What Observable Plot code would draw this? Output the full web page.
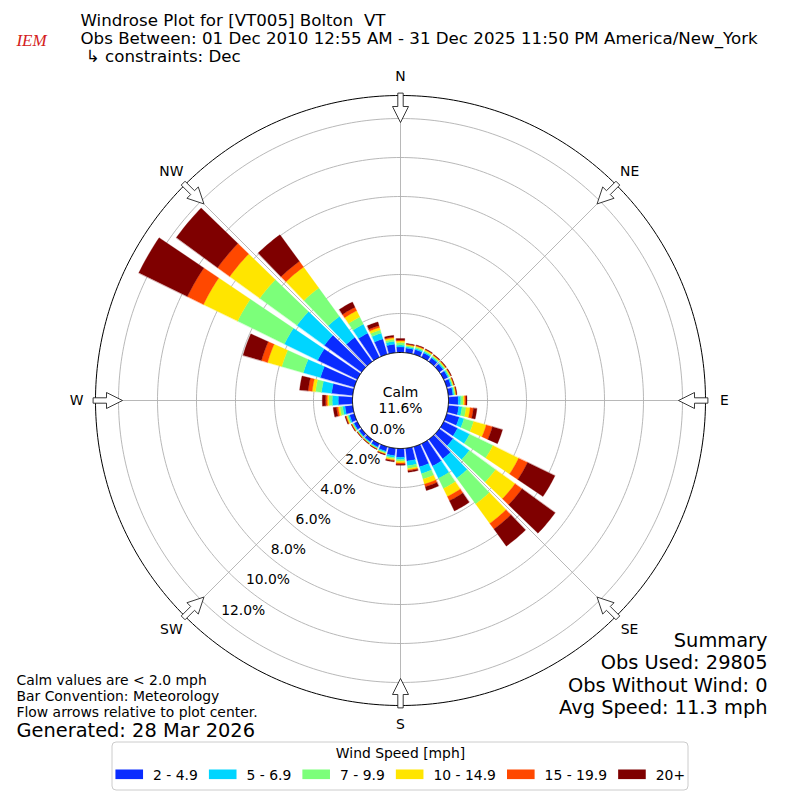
<!DOCTYPE html>
<html>
<head>
<meta charset="utf-8">
<script src="https://cdn.jsdelivr.net/npm/d3@7"></script>
<script src="https://cdn.jsdelivr.net/npm/@observablehq/plot@0.6"></script>
<style>
  html, body { margin: 0; padding: 0; background: #fff; }
</style>
</head>
<body>
<div id="chart"></div>
<script>
// ---------------- DATA ----------------
const directions = [0,10,20,30,40,50,60,70,80,90,100,110,120,130,140,150,160,170,
                    180,190,200,210,220,230,240,250,260,270,280,290,300,310,320,330,340,350];
const speedBins = ["2 - 4.9", "5 - 6.9", "7 - 9.9", "10 - 14.9", "15 - 19.9", "20+"];
const binColors = ["#0a2cff", "#00d5ff", "#7cff7a", "#ffe500", "#ff4800", "#7f0000"];

// percent of observations per direction, one array per speed bin
const bin2_5   = [0.28,0.24,0.25,0.25,0.24,0.24,0.24,0.23,0.24,0.50,0.54,0.67,0.79,0.87,1.23,1.28,1.08,0.66,
                  0.45,0.38,0.24,0.19,0.17,0.17,0.19,0.25,0.40,0.73,1.09,1.81,2.26,2.36,1.54,1.38,0.82,0.44];
const bin5_7   = [0.10,0.07,0.07,0.07,0.06,0.06,0.06,0.06,0.06,0.13,0.17,0.26,0.69,1.03,1.23,0.70,0.36,0.24,
                  0.12,0.10,0.06,0.05,0.04,0.04,0.05,0.07,0.12,0.31,0.52,0.91,1.90,1.74,1.33,0.51,0.31,0.15];
const bin7_10  = [0.13,0.06,0.07,0.06,0.06,0.06,0.06,0.05,0.06,0.12,0.21,0.51,1.33,1.67,1.64,0.58,0.29,0.14,
                  0.09,0.07,0.05,0.04,0.04,0.04,0.04,0.06,0.14,0.17,0.31,1.15,2.67,2.36,1.80,0.41,0.17,0.10];
const bin10_15 = [0.08,0.05,0.05,0.05,0.04,0.04,0.04,0.04,0.04,0.08,0.21,0.67,1.47,1.23,1.23,0.46,0.27,0.08,
                  0.08,0.06,0.04,0.02,0.02,0.02,0.03,0.05,0.09,0.08,0.17,0.76,1.95,1.90,1.33,0.36,0.13,0.08];
const bin15_20 = [0.05,0.03,0.03,0.02,0.02,0.02,0.02,0.02,0.02,0.07,0.17,0.33,0.51,0.44,0.36,0.24,0.14,0.05,
                  0.07,0.04,0.02,0.01,0.01,0.01,0.02,0.03,0.09,0.09,0.21,0.33,0.92,0.77,0.36,0.20,0.10,0.05];
const bin20p   = [0.08,0.03,0.03,0.03,0.03,0.03,0.03,0.02,0.03,0.05,0.18,0.54,1.56,2.10,1.08,0.58,0.20,0.07,
                  0.05,0.05,0.03,0.02,0.02,0.02,0.02,0.04,0.17,0.17,0.44,0.98,2.77,2.62,1.69,0.30,0.20,0.08];

const calmPct = 11.6;
const ringTicks = [0, 2, 4, 6, 8, 10, 12];
const compassLabels = ["N", "NE", "E", "SE", "S", "SW", "W", "NW"];
const compassBearings = [0, 45, 90, 135, 180, 225, 270, 315];

const titleLines = [
  "Windrose Plot for [VT005] Bolton\u00a0 VT",
  "Obs Between: 01 Dec 2010 12:55 AM - 31 Dec 2025 11:50 PM America/New_York",
  "\u00a0\u21b3 constraints: Dec"
];
const noteLines = [
  "Calm values are < 2.0 mph",
  "Bar Convention: Meteorology",
  "Flow arrows relative to plot center."
];
const generatedLine = "Generated: 28 Mar 2026";
const summaryLines = ["Summary", "Obs Used: 29805", "Obs Without Wind: 0", "Avg Speed: 11.3 mph"];
const legendTitle = "Wind Speed [mph]";

// ---------------- GEOMETRY ----------------
const PX = 19.5;              // pixels per percent on the radial axis
const BOTTOM = 48 / PX;       // calm circle radius (radial offset)
const OUTER = 305 / PX;       // outer frame radius
const HALF = 400 / PX;
const OPEN = 8;               // bar angular width, degrees
const FONT = "DejaVu Sans";
const rad = d => d * Math.PI / 180;
const pol = (r, deg) => [r * Math.sin(rad(deg)), r * Math.cos(rad(deg))];
const X = px => (px - 400) / PX;
const Y = py => (400 - py) / PX;

const binArrays = [bin2_5, bin5_7, bin7_10, bin10_15, bin15_20, bin20p];
const wedges = binArrays.map(() => []);
directions.forEach((d, i) => {
  let c0 = 0;
  binArrays.forEach((arr, k) => {
    const v = arr[i];
    if (!(v > 0)) return;
    const c1 = c0 + v;
    const id = d + "-" + k;
    const n = 10;
    for (let j = 0; j <= n; j++) {
      const [x, y] = pol(BOTTOM + c0, d - OPEN / 2 + OPEN * j / n);
      wedges[k].push({id, x, y});
    }
    for (let j = n; j >= 0; j--) {
      const [x, y] = pol(BOTTOM + c1, d - OPEN / 2 + OPEN * j / n);
      wedges[k].push({id, x, y});
    }
    c0 = c1;
  });
});

function circle(r, id) {
  const pts = [];
  for (let a = 0; a < 360; a += 1) {
    const [x, y] = pol(r, a);
    pts.push({id, x, y});
  }
  return pts;
}
const ringPts = ringTicks.filter(v => v > 0).flatMap(v => circle(BOTTOM + v, "r" + v));
const spokes = compassBearings.map(b => {
  const [x1, y1] = pol(BOTTOM, b);
  const [x2, y2] = pol(OUTER, b);
  return {x1, y1, x2, y2};
});

// compass arrows: shape in pixels (radius, half-width)
const arrowShape = [[307, -2.7], [294, -2.7], [294, -8], [278, 0], [294, 8], [294, 2.7], [307, 2.7]];
const arrowPts = compassBearings.flatMap(b => arrowShape.map(([r, w]) => ({
  id: "a" + b,
  x: (r * Math.sin(rad(b)) + w * Math.cos(rad(b))) / PX,
  y: (r * Math.cos(rad(b)) - w * Math.sin(rad(b))) / PX
})));
const compassText = compassLabels.map((t, i) => {
  const [x, y] = pol(324 / PX, compassBearings[i]);
  return {t, x, y};
});
const rLabelBearing = 219.5;
const rLabels = ringTicks.map(v => {
  const [x, y] = pol(BOTTOM + v, rLabelBearing);
  return {t: v.toFixed(1) + "%", x, y: y + 8 / PX};
});

function lines(texts, xpx, baselines, size, anchor) {
  return Plot.text(texts.map((t, i) => ({t, x: X(xpx), y: Y(baselines[i] - 0.32 * size)})), {
    x: "x", y: "y", text: "t", fontSize: size, textAnchor: anchor,
    lineAnchor: "middle", fill: "black", fontFamily: FONT
  });
}

// legend layout
const ctx = document.createElement("canvas").getContext("2d");
const LFS = 13.9;
ctx.font = LFS + "px '" + FONT + "'";
const handleW = 27.6, handleH = 9.6, pad = 9.5, gap = 11.6;
const widths = speedBins.map(s => ctx.measureText(s).width);
const totalW = widths.reduce((a, b) => a + b, 0) + speedBins.length * (handleW + pad) + (speedBins.length - 1) * gap;
let cursor = 400 - totalW / 2;
const legendItems = speedBins.map((s, i) => {
  const item = {label: s, color: binColors[i], sx: cursor, tx: cursor + handleW + pad};
  cursor += handleW + pad + widths[i] + gap;
  return item;
});

const chart = Plot.plot({
  width: 800,
  height: 800,
  margin: 0,
  x: {domain: [-HALF, HALF], axis: null},
  y: {domain: [-HALF, HALF], axis: null},
  style: {fontFamily: FONT, background: "white", color: "black"},
  marks: [
    Plot.line(ringPts, {x: "x", y: "y", z: "id", stroke: "#b0b0b0", strokeWidth: 0.9, curve: "linear-closed"}),
    Plot.link(spokes, {x1: "x1", y1: "y1", x2: "x2", y2: "y2", stroke: "#b0b0b0", strokeWidth: 0.9}),
    ...wedges.map((w, k) => Plot.line(w, {
      x: "x", y: "y", z: "id", fill: binColors[k], stroke: binColors[k], strokeWidth: 0.3, curve: "linear-closed"
    })),
    Plot.line(circle(BOTTOM, "calm"), {x: "x", y: "y", z: "id", fill: "white", stroke: "black", strokeWidth: 1, curve: "linear-closed"}),
    Plot.line(circle(OUTER, "outer"), {x: "x", y: "y", z: "id", fill: "none", stroke: "black", strokeWidth: 1, curve: "linear-closed"}),
    Plot.line(arrowPts, {x: "x", y: "y", z: "id", fill: "white", stroke: "#222", strokeWidth: 0.9, curve: "linear-closed"}),
    Plot.text(compassText, {x: "x", y: "y", text: "t", fontSize: 13.9, fill: "black", fontFamily: FONT}),
    Plot.text(rLabels, {x: "x", y: "y", text: "t", fontSize: 13.9, fill: "black", textAnchor: "start", dx: 0, fontFamily: FONT}),
    Plot.text(["Calm\n" + calmPct.toFixed(1) + "%"], {x: () => 0, y: () => 0, text: d => d, fontSize: 13.9, lineHeight: 1.17, dy: -1, fill: "black", fontFamily: FONT}),
    // logo stand-in
    Plot.text(["IEM"], {x: () => X(31), y: () => Y(40), text: d => d, fontSize: 17, fill: "#d42020", fontStyle: "italic", fontFamily: "Liberation Serif"}),
    lines(titleLines, 80, [25, 43.3, 61.7], 16.67, "start"),
    lines(noteLines, 16, [684.5, 700.5, 716.5], 13.9, "start"),
    lines([generatedLine], 16, [736], 19.4, "start"),
    lines(summaryLines, 767, [646, 668.5, 691, 713.5], 19.4, "end"),
    // legend
    Plot.rect([0], {x1: () => X(112), x2: () => X(688), y1: () => Y(742), y2: () => Y(790), fill: "white", stroke: "#cccccc", strokeWidth: 1, rx: 4}),
    lines([legendTitle], 400, [757], 13.9, "middle"),
    Plot.rect(legendItems, {x1: d => X(d.sx), x2: d => X(d.sx + handleW), y1: () => Y(769.5), y2: () => Y(769.5 + handleH), fill: "color"}),
    Plot.text(legendItems, {x: d => X(d.tx), y: () => Y(779 - 0.32 * LFS), text: "label", fontSize: LFS, textAnchor: "start", fill: "black", fontFamily: FONT})
  ]
});
document.getElementById("chart").appendChild(chart);
</script>
</body>
</html>
